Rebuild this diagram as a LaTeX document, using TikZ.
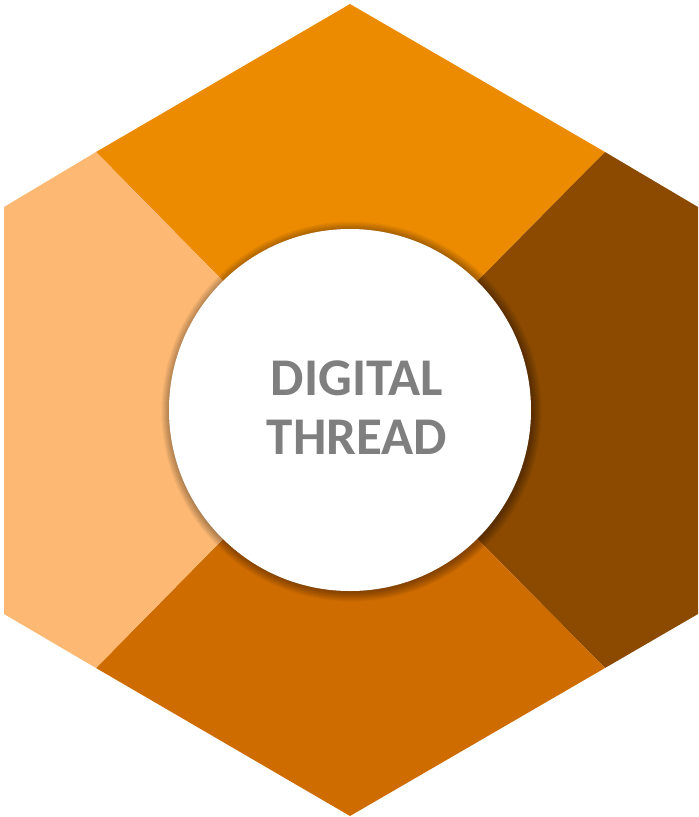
\documentclass[tikz,border=0pt]{standalone}
\usepackage{fontspec}
\setmainfont{Carlito}
\usetikzlibrary{calc}
\definecolor{topc}{HTML}{ED8B00}
\definecolor{rightc}{HTML}{8B4A00}
\definecolor{botc}{HTML}{CF6C00}
\definecolor{leftc}{HTML}{FDB974}
\definecolor{txtc}{HTML}{7F7F7F}
\begin{document}
\begin{tikzpicture}[x=1pt,y=-1pt,
  hubdisc/.style={circle,fill=white,minimum size=362pt,inner sep=0pt},
  hubtext/.style={inner sep=0pt,align=center,
    text=txtc,font=\fontsize{53}{59}\selectfont\bfseries}]
\useasboundingbox (0,0) rectangle (699,817);
\coordinate (c) at (350,410);
\coordinate (tv) at (350,4);
\coordinate (ul) at (4,207);
\coordinate (ll) at (4,614);
\coordinate (bv) at (350,816);
\coordinate (lr) at (698,614);
\coordinate (ur) at (698,207);
\coordinate (sul) at (96,152);
\coordinate (sur) at (605,152);
\coordinate (sll) at (96,668);
\coordinate (slr) at (605,668);
\fill[topc] (sul) -- (tv) -- (sur) -- (c) -- cycle;
\fill[rightc] (sur) -- (ur) -- (lr) -- (slr) -- (c) -- cycle;
\fill[botc] (slr) -- (bv) -- (sll) -- (c) -- cycle;
\fill[leftc] (sll) -- (ll) -- (ul) -- (sul) -- (c) -- cycle;
\foreach \k in {0,...,9}
  \fill[black,opacity=0.04] ($(c)+(1.5,1.5)$) circle ({181+9-\k});
\node[hubdisc] (hub) at (c) {};
\node[hubtext] (hubtxt) at ($(c)+(7,-2)$) {DIGITAL\\THREAD};
\end{tikzpicture}
\end{document}
